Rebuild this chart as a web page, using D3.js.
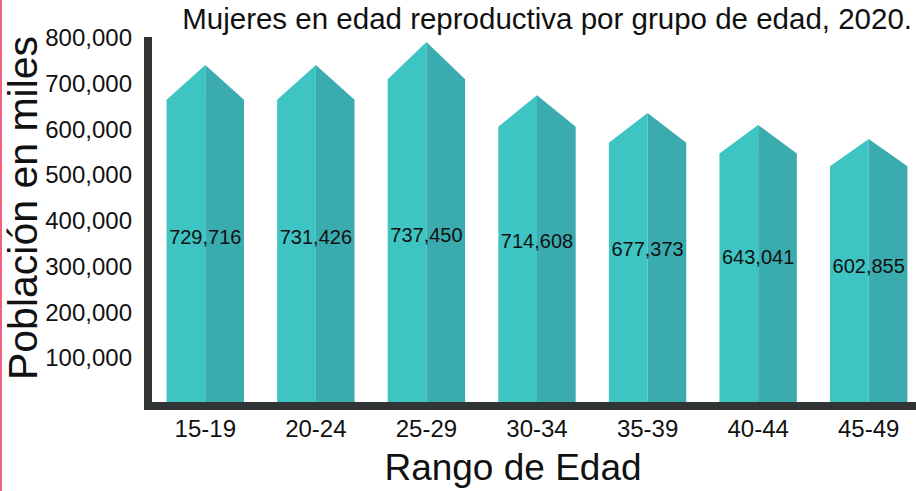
<!DOCTYPE html>
<html>
<head>
<meta charset="utf-8">
<script src="https://cdn.jsdelivr.net/npm/d3@7"></script>
<style>
  body { margin: 0; background: #fff; }
  svg { display: block; font-family: "Liberation Sans", Arial, Helvetica, sans-serif; }
</style>
</head>
<body>
<script>
(function() {
  'use strict';

  // Grupos de edad y población (etiquetas)
  var grupos = ['15-19', '20-24', '25-29', '30-34', '35-39', '40-44', '45-49'];
  var poblacion = [729716, 731426, 737450, 714608, 677373, 643041, 602855];
  // altura de la punta de cada flecha tal como se ve en el eje
  var alturaFlecha = [741000, 741000, 791000, 675000, 636000, 610000, 579000];
  var yTicks = [100000, 200000, 300000, 400000, 500000, 600000, 700000, 800000];

  var w = 916;
  var h = 491;

  var svg = d3.select('body')
    .append('svg')
    .attr('width', w)
    .attr('height', h);

  // borde rosa a la izquierda
  svg.append('rect')
    .attr('x', 0).attr('y', 0)
    .attr('width', 2).attr('height', h)
    .attr('fill', '#f06080');

  var x = d3.scaleBand()
    .domain(grupos)
    .range([150, 924])
    .paddingInner(0.3)
    .paddingOuter(0.15);

  var y = d3.scaleLinear()
    .domain([0, 800000])
    .range([404, 38]);

  var y0 = y(0);
  var puntaRel = 1.114; // alto total / alto del cuerpo

  var bars = svg.selectAll('g.barra')
    .data(grupos)
    .enter()
    .append('g')
    .attr('class', 'barra');

  // mitad izquierda (clara)
  bars.append('path')
    .attr('fill', '#3ec4c3')
    .attr('d', function(d, i) {
      var x0 = x(d), xm = x(d) + x.bandwidth() / 2;
      var tip = y(alturaFlecha[i]);
      var shoulder = y0 - (y0 - tip) / puntaRel;
      return 'M' + x0 + ',' + y0 + 'L' + x0 + ',' + shoulder +
        'L' + xm + ',' + tip + 'L' + xm + ',' + y0 + 'Z';
    });

  // mitad derecha (oscura)
  bars.append('path')
    .attr('fill', '#3aacb0')
    .attr('d', function(d, i) {
      var x1 = x(d) + x.bandwidth(), xm = x(d) + x.bandwidth() / 2;
      var tip = y(alturaFlecha[i]);
      var shoulder = y0 - (y0 - tip) / puntaRel;
      return 'M' + xm + ',' + y0 + 'L' + xm + ',' + tip +
        'L' + x1 + ',' + shoulder + 'L' + x1 + ',' + y0 + 'Z';
    });

  // etiquetas de valor
  svg.selectAll('text.valor')
    .data(grupos)
    .enter()
    .append('text')
    .attr('class', 'valor')
    .attr('x', function(d) { return x(d) + x.bandwidth() / 2; })
    .attr('y', function(d, i) { return y(poblacion[i] / 2); })
    .attr('text-anchor', 'middle')
    .attr('dominant-baseline', 'central')
    .attr('font-size', '20px')
    .attr('fill', '#111')
    .text(function(d, i) { return d3.format(',')(poblacion[i]); });

  // eje Y (etiquetas)
  var yAxis = svg.append('g')
    .attr('transform', 'translate(148,0)')
    .call(d3.axisLeft(y).tickValues(yTicks).tickFormat(d3.format(',')).tickSize(0).tickPadding(16));
  yAxis.select('.domain').remove();
  yAxis.selectAll('text')
    .attr('font-size', '24px')
    .attr('font-family', '"Liberation Sans", Arial, sans-serif')
    .attr('fill', '#111');

  // eje X (etiquetas)
  var xAxis = svg.append('g')
    .attr('transform', 'translate(0,406)')
    .call(d3.axisBottom(x).tickSize(0).tickPadding(14));
  xAxis.select('.domain').remove();
  xAxis.selectAll('text')
    .attr('font-size', '24px')
    .attr('font-family', '"Liberation Sans", Arial, sans-serif')
    .attr('fill', '#111');

  // líneas gruesas de los ejes
  svg.append('line')
    .attr('x1', 148).attr('x2', 148)
    .attr('y1', 37).attr('y2', 410)
    .attr('stroke', '#303434').attr('stroke-width', 8);
  svg.append('line')
    .attr('x1', 144).attr('x2', 916)
    .attr('y1', 406).attr('y2', 406)
    .attr('stroke', '#303434').attr('stroke-width', 8);

  // títulos
  svg.append('text')
    .attr('x', 912).attr('y', 29)
    .attr('text-anchor', 'end')
    .attr('font-size', '29.5px')
    .attr('fill', '#111')
    .text('Mujeres en edad reproductiva por grupo de edad, 2020.');

  svg.append('text')
    .attr('transform', 'translate(37,208) rotate(-90)')
    .attr('text-anchor', 'middle')
    .attr('font-size', '41px')
    .attr('fill', '#111')
    .text('Población en miles');

  svg.append('text')
    .attr('x', 513).attr('y', 480)
    .attr('text-anchor', 'middle')
    .attr('font-size', '37px')
    .attr('fill', '#111')
    .text('Rango de Edad');

})();
</script>
</body>
</html>
